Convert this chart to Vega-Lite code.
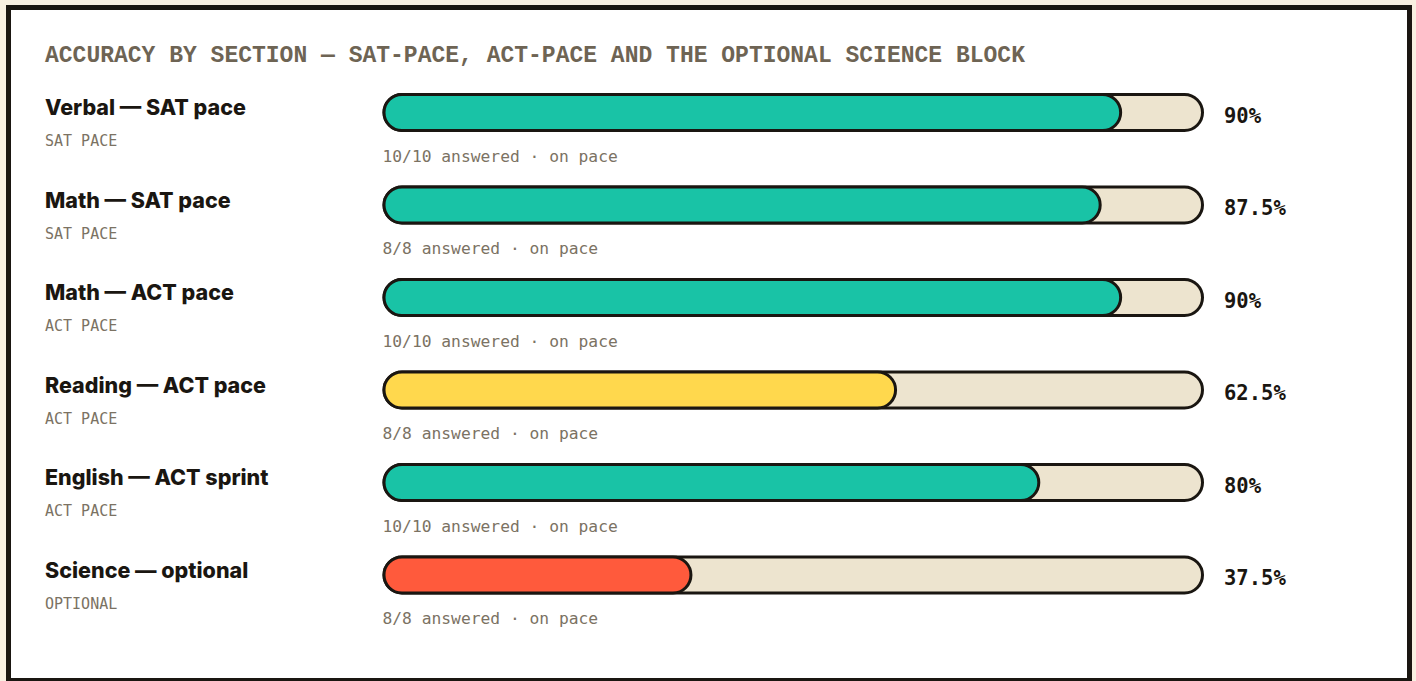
{
  "$schema": "https://vega.github.io/schema/vega-lite/v6.json",
  "width": 1416,
  "height": 681,
  "autosize": {"type": "fit", "contains": "padding"},
  "padding": {"left": 8.5, "top": 7.5, "right": 6.5, "bottom": 0.5},
  "background": "#f8f0e1",
  "config": {
    "view": {"fill": "#ffffff", "stroke": "#1a1611", "strokeWidth": 5},
    "axis": {"grid": false}
  },
  "data": {
    "values": [
      {"section": "Verbal — SAT pace", "pace": "SAT PACE", "note": "10/10 answered · on pace", "accuracy": 0.9, "full": 1, "level": "strong"},
      {"section": "Math — SAT pace", "pace": "SAT PACE", "note": "8/8 answered · on pace", "accuracy": 0.875, "full": 1, "level": "strong"},
      {"section": "Math — ACT pace", "pace": "ACT PACE", "note": "10/10 answered · on pace", "accuracy": 0.9, "full": 1, "level": "strong"},
      {"section": "Reading — ACT pace", "pace": "ACT PACE", "note": "8/8 answered · on pace", "accuracy": 0.625, "full": 1, "level": "fair"},
      {"section": "English — ACT sprint", "pace": "ACT PACE", "note": "10/10 answered · on pace", "accuracy": 0.8, "full": 1, "level": "strong"},
      {"section": "Science — optional", "pace": "OPTIONAL", "note": "8/8 answered · on pace", "accuracy": 0.375, "full": 1, "level": "weak"}
    ]
  },
  "encoding": {
    "y": {
      "field": "section",
      "type": "nominal",
      "axis": null,
      "scale": {
        "type": "band",
        "domain": ["Verbal — SAT pace", "Math — SAT pace", "Math — ACT pace", "Reading — ACT pace", "English — ACT sprint", "Science — optional"],
        "range": [58.75, 613.75],
        "paddingInner": 0,
        "paddingOuter": 0
      }
    }
  },
  "layer": [
    {
      "mark": {"type": "bar", "height": 36, "cornerRadius": 18, "fill": "#ede4cf", "stroke": "#1a1611", "strokeWidth": 3},
      "encoding": {
        "x": {"field": "full", "type": "quantitative", "stack": null, "axis": null, "scale": {"domain": [0, 1], "range": [375.5, 1194], "nice": false}}
      }
    },
    {
      "mark": {"type": "bar", "height": 36, "cornerRadius": 18, "stroke": "#1a1611", "strokeWidth": 3},
      "encoding": {
        "x": {"field": "accuracy", "type": "quantitative", "stack": null},
        "fill": {
          "field": "level",
          "type": "nominal",
          "legend": null,
          "scale": {"domain": ["strong", "fair", "weak"], "range": ["#19c3a6", "#ffd84d", "#ff5a3c"]}
        }
      }
    },
    {
      "mark": {"type": "text", "align": "left", "baseline": "alphabetic", "dy": 2.5, "font": "Inter", "fontSize": 21.5, "fontWeight": 800, "color": "#1a1611"},
      "encoding": {
        "x": {"datum": -0.4142, "type": "quantitative"},
        "text": {"field": "section"}
      }
    },
    {
      "mark": {"type": "text", "align": "left", "baseline": "alphabetic", "dy": 33.5, "font": "DejaVu Sans Mono", "fontSize": 15, "color": "#7b7263"},
      "encoding": {
        "x": {"datum": -0.4142, "type": "quantitative"},
        "text": {"field": "pace"}
      }
    },
    {
      "mark": {"type": "text", "align": "left", "baseline": "alphabetic", "dy": 49, "dx": -1.5, "font": "DejaVu Sans Mono", "fontSize": 16.3, "color": "#7b7263"},
      "encoding": {
        "x": {"datum": 0, "type": "quantitative"},
        "text": {"field": "note"}
      }
    },
    {
      "mark": {"type": "text", "align": "left", "baseline": "alphabetic", "dy": 10, "font": "DejaVu Sans Mono", "fontSize": 20.5, "fontWeight": "bold", "color": "#1a1611"},
      "encoding": {
        "x": {"datum": 1.0263, "type": "quantitative"},
        "text": {"field": "accuracy", "format": ".1~%"}
      }
    },
    {
      "data": {"values": [{"title": "ACCURACY BY SECTION — SAT-PACE, ACT-PACE AND THE OPTIONAL SCIENCE BLOCK", "anchorRow": "Verbal — SAT pace"}]},
      "mark": {"type": "text", "align": "left", "baseline": "alphabetic", "dy": -50.5, "font": "Liberation Mono", "fontSize": 23, "fontWeight": "bold", "color": "#6e6454"},
      "encoding": {
        "x": {"datum": -0.4142, "type": "quantitative"},
        "y": {"field": "anchorRow", "type": "nominal"},
        "text": {"field": "title"}
      }
    }
  ]
}
